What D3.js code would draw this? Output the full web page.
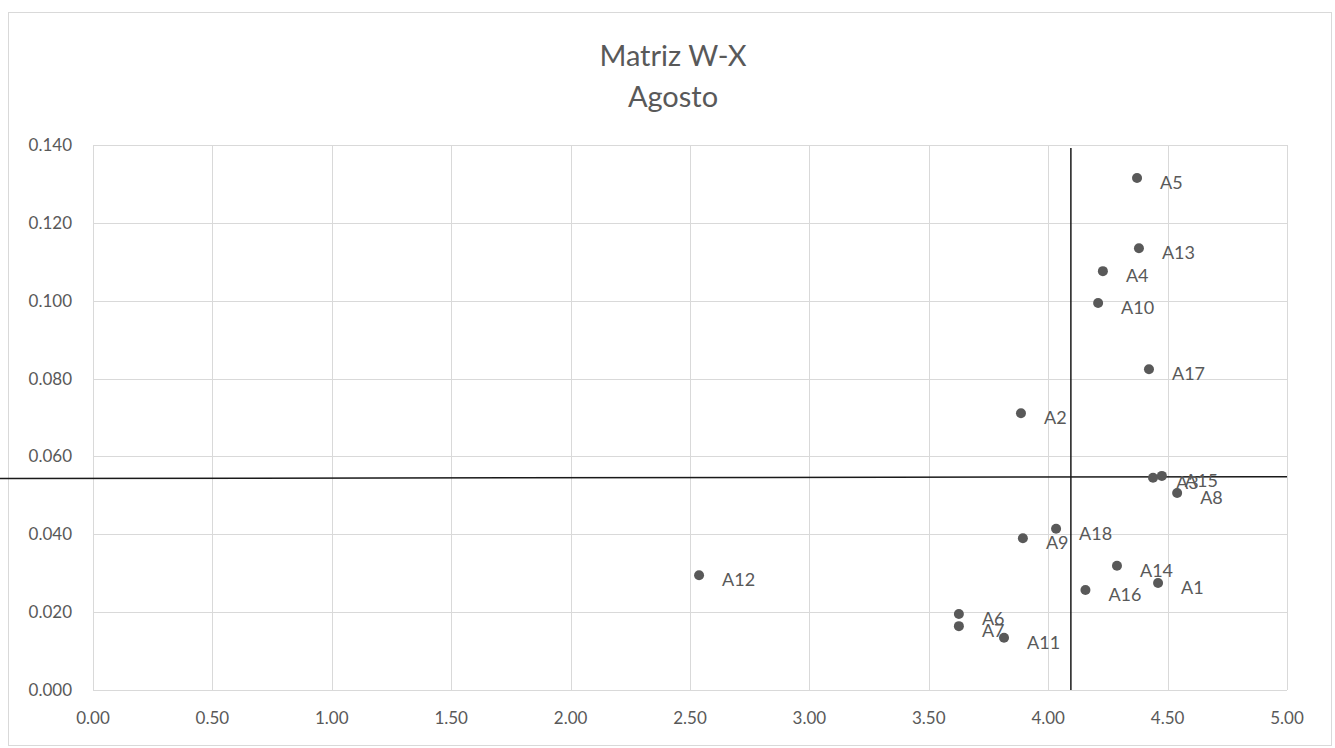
<!DOCTYPE html>
<html>
<head>
<meta charset="utf-8">
<script src="https://cdn.jsdelivr.net/npm/d3@7"></script>
<style>
  body { margin: 0; background: #fff; }
  text { font-family: Lato, "Open Sans", sans-serif; fill: #595959; }
</style>
</head>
<body>
<svg id="chart" width="1335" height="748"></svg>
<script>
const labels = ['A1','A2','A3','A4','A5','A6','A7','A8','A9','A10','A11','A12','A13','A14','A15','A16','A17','A18'];
const xValues = [4.46, 3.886, 4.439, 4.229, 4.372, 3.626, 3.626, 4.54, 3.894, 4.209, 3.815, 2.538, 4.38, 4.288, 4.476, 4.156, 4.422, 4.033];
const yValues = [0.0275, 0.0711, 0.0545, 0.1076, 0.1315, 0.0195, 0.0164, 0.0506, 0.039, 0.0994, 0.0134, 0.0295, 0.1135, 0.0319, 0.055, 0.0257, 0.0824, 0.0414];
const xTicks = [0, 0.5, 1, 1.5, 2, 2.5, 3, 3.5, 4, 4.5, 5];
const yTicks = [0, 0.02, 0.04, 0.06, 0.08, 0.1, 0.12, 0.14];
const titleLines = ['Matriz W-X', 'Agosto'];
// cut lines drawn over the plot
const vCut = { x: 4.095, y0: 0, y1: 0.1392 };
const hCut = { y0: 0.0543, y1: 0.0548, x0: -0.39, x1: 5.0 };

const svg = d3.select('svg#chart');
const margin = { top: 145, right: 48, bottom: 58, left: 93 };
const width = +svg.attr('width') - margin.left - margin.right;
const height = +svg.attr('height') - margin.top - margin.bottom;

svg.append('rect')
    .attr('x', 8.5).attr('y', 12.5)
    .attr('width', 1323).attr('height', 733)
    .attr('fill', '#fff')
    .attr('stroke', '#d9d9d9');

const title = svg.append('text')
    .attr('text-anchor', 'middle')
    .attr('font-size', 29);
titleLines.forEach((t, i) => {
  title.append('tspan').attr('x', 673).attr('y', 66 + i * 41).text(t);
});

const xScale = d3.scaleLinear().domain([0, 5]).range([0, width]);
const yScale = d3.scaleLinear().domain([0, 0.14]).range([height, 0]);

const g = svg.append('g').attr('transform', `translate(${margin.left},${margin.top})`);

// grid
g.selectAll('.vgrid').data(xTicks).join('line')
    .attr('x1', d => Math.round(xScale(d)) + 0.5).attr('x2', d => Math.round(xScale(d)) + 0.5)
    .attr('y1', 0).attr('y2', height)
    .attr('stroke', '#d9d9d9');
g.selectAll('.hgrid').data(yTicks).join('line')
    .attr('y1', d => Math.round(yScale(d)) + 0.5).attr('y2', d => Math.round(yScale(d)) + 0.5)
    .attr('x1', 0).attr('x2', width)
    .attr('stroke', '#d9d9d9');

// tick labels
g.selectAll('.xlab').data(xTicks).join('text')
    .attr('x', d => xScale(d)).attr('y', height + 34)
    .attr('text-anchor', 'middle').attr('font-size', 17)
    .text(d => d.toFixed(2));
g.selectAll('.ylab').data(yTicks).join('text')
    .attr('x', -21).attr('y', d => yScale(d) + 6)
    .attr('text-anchor', 'end').attr('font-size', 17)
    .text(d => d.toFixed(3));

// cut lines
g.append('line')
    .attr('x1', xScale(vCut.x)).attr('x2', xScale(vCut.x))
    .attr('y1', yScale(vCut.y0)).attr('y2', yScale(vCut.y1))
    .attr('stroke', '#1a1a1a').attr('stroke-width', 1.5);
g.append('line')
    .attr('x1', xScale(hCut.x0)).attr('x2', xScale(hCut.x1))
    .attr('y1', yScale(hCut.y0)).attr('y2', yScale(hCut.y1))
    .attr('stroke', '#1a1a1a').attr('stroke-width', 1.5);

const points = labels.map((l, i) => ({ label: l, x: xValues[i], y: yValues[i] }));

g.selectAll('.pt').data(points).join('circle')
    .attr('cx', d => xScale(d.x)).attr('cy', d => yScale(d.y))
    .attr('r', 5)
    .attr('fill', '#595959');

g.selectAll('.ptlab').data(points).join('text')
    .attr('x', d => xScale(d.x) + 23).attr('y', d => yScale(d.y) + 11)
    .attr('font-size', 18)
    .text(d => d.label);
</script>
</body>
</html>
